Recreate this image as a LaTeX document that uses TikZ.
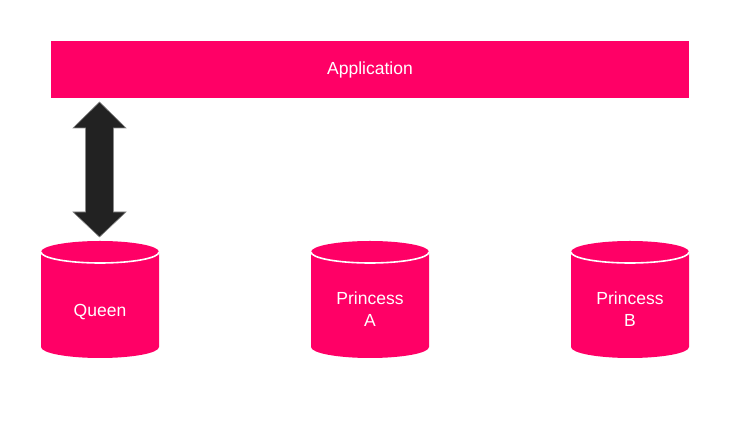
\documentclass[tikz,border=0pt]{standalone}
\usepackage{fontspec}
\setmainfont{Liberation Sans}
\usetikzlibrary{calc}
\definecolor{pinkc}{HTML}{FF0066}
\definecolor{arrowc}{HTML}{222222}
\definecolor{arrowedge}{HTML}{8A8A8A}
\begin{document}
\begin{tikzpicture}[x=1pt,y=1pt,
  lbl/.style={text=white,font=\fontsize{17.5}{22}\selectfont,align=center,inner sep=0pt},
  dbline/.style={draw=white,line width=1.6pt}]
\useasboundingbox (0,0) rectangle (730,441);
% application bar
\node[fill=pinkc,minimum width=638,minimum height=57,inner sep=0pt,anchor=center] (app) at (370,371.5) {};
\node[lbl] (applbl) at (370,371) {Application};
% cylinders
\foreach \cx/\nm/\ty/\txt in {100/queen/129/Queen, 370/pa/131.5/Princess\\A, 630/pb/131.5/Princess\\B}{
  \fill[pinkc] (\cx-59,189) -- (\cx-59,94)
     arc[start angle=180,end angle=360,x radius=59,y radius=11]
     -- (\cx+59,189)
     arc[start angle=0,end angle=180,x radius=59,y radius=11] -- cycle;
  \draw[dbline] (\cx-59,189) arc[start angle=180,end angle=360,x radius=59,y radius=11];
  \node[lbl] (\nm) at (\cx,\ty) {\txt};
}
% double arrow between application and queen
\coordinate (atop) at (99.5,339);
\coordinate (abot) at (99.5,204);
\filldraw[fill=arrowc,draw=arrowedge,line width=0.6pt]
  (atop) -- ($(atop)+(26.5,-26)$) -- ($(atop)+(14,-26)$)
  -- ($(abot)+(14,25)$) -- ($(abot)+(26.5,25)$) -- (abot)
  -- ($(abot)+(-26.5,25)$) -- ($(abot)+(-14,25)$)
  -- ($(atop)+(-14,-26)$) -- ($(atop)+(-26.5,-26)$) -- cycle;
\end{tikzpicture}
\end{document}
